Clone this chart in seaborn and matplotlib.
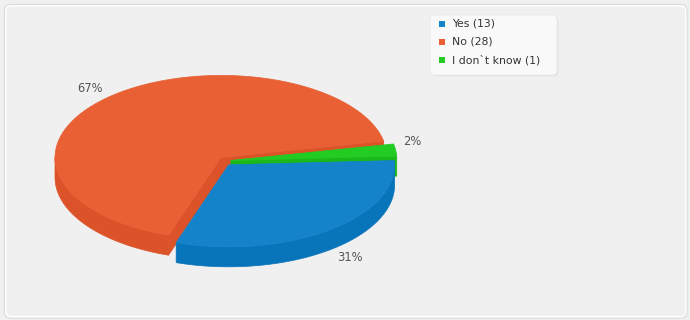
import numpy as np
import matplotlib
matplotlib.use("Agg")
import matplotlib.pyplot as plt
import seaborn as sns
from matplotlib.patches import Polygon, FancyBboxPatch, Rectangle

# ---- data ----
categories = ["Yes", "No", "I don`t know"]
counts = [13, 28, 1]
top_colors = ["#1583C9", "#E86034", "#22CC22"]
side_colors = ["#0874BA", "#DC5329", "#1BB81B"]

sns.set_theme(style="white")
plt.rcParams['font.family'] = ['DejaVu Sans']

W, H = 690, 320
fig = plt.figure(figsize=(W / 100, H / 100), dpi=100, facecolor="#F0F0F0")
ax = fig.add_axes([0, 0, 1, 1])
ax.set_xlim(0, W)
ax.set_ylim(H, 0)
ax.axis("off")
ax.set_facecolor("#F0F0F0")

# frame
ax.add_patch(FancyBboxPatch((4.5, 4.5), W - 7.5, H - 6.5,
                            boxstyle="round,pad=0,rounding_size=6",
                            fc="#F0F0F0", ec="#DCDCDC", lw=0.9, zorder=0))
ax.add_patch(FancyBboxPatch((5.8, 5.8), W - 10.1, H - 9.1,
                            boxstyle="round,pad=0,rounding_size=5",
                            fc="none", ec="white", lw=1.0, zorder=0.5))

# ---- 3D pie geometry ----
cx, cy = 225, 161
rx, ry = 166, 82
depth = 20
explode = 6
start = 3.0

total = sum(counts)
fr = np.array(counts) / total
cum = np.concatenate([[0], np.cumsum(fr)])
slices = []
for i in range(len(counts)):
    a_start = start - cum[i] * 360
    a_end = start - cum[i + 1] * 360
    t1, t2 = a_end, a_start
    m = (t1 + t2) / 2
    mr = np.radians(m)
    ox = explode * np.cos(mr)
    oy = -explode * 0.8 * np.sin(mr)
    slices.append(dict(i=i, t1=t1, t2=t2, m=m, ox=ox, oy=oy))


def rim(s, th, dz=0.0):
    r = np.radians(th)
    return (cx + s["ox"] + rx * np.cos(r), cy + s["oy"] - ry * np.sin(r) + dz)


def arc(s, a, b, dz=0.0, n=None):
    n = n or max(3, int(abs(b - a) * 1.5))
    ts = np.linspace(a, b, n)
    return [rim(s, t, dz) for t in ts]


order = sorted(slices, key=lambda s: -np.sin(np.radians(s["m"])))
for s in order:
    i = s["i"]
    apex = (cx + s["ox"], cy + s["oy"])
    apex_d = (apex[0], apex[1] + depth)
    # outer wall (front part only)
    for k in range(-2, 3):
        lo = max(s["t1"], -180 + 360 * k)
        hi = min(s["t2"], 0 + 360 * k)
        if hi > lo:
            pts = arc(s, lo, hi) + arc(s, hi, lo, depth)
            ax.add_patch(Polygon(pts, closed=True, fc=side_colors[i],
                                 ec=side_colors[i], lw=0.5, zorder=2))
    # radial walls
    if np.cos(np.radians(s["t1"])) > 0:
        p = rim(s, s["t1"])
        pts = [apex, p, (p[0], p[1] + depth), apex_d]
        ax.add_patch(Polygon(pts, closed=True, fc=side_colors[i],
                             ec=side_colors[i], lw=0.5, zorder=2))
    if np.cos(np.radians(s["t2"])) < 0:
        p = rim(s, s["t2"])
        pts = [apex, p, (p[0], p[1] + depth), apex_d]
        ax.add_patch(Polygon(pts, closed=True, fc=side_colors[i],
                             ec=side_colors[i], lw=0.5, zorder=2))
    # top face
    pts = [apex] + arc(s, s["t1"], s["t2"])
    ax.add_patch(Polygon(pts, closed=True, fc=top_colors[i],
                         ec=top_colors[i], lw=0.5, zorder=2))

# percentage labels (placed just outside the rim at each slice's mid angle)
gap = 8
for s in slices:
    mr = np.radians(s["m"])
    c, sn = np.cos(mr), np.sin(mr)
    x, y = rim(s, s["m"])
    x += gap if c > 0 else -gap
    y += (depth + 7) if sn < 0 else -8
    pct = f"{round(100 * counts[s['i']] / total)}%"
    ax.text(x, y, pct, ha="left" if c > 0 else "right", va="center",
            fontsize=8.3, color="#555555", zorder=3)

# legend
lx, ly, lw_, lh = 430, 15, 127, 60
ax.add_patch(FancyBboxPatch((lx + 1.5, ly + 1.5), lw_, lh,
                            boxstyle="round,pad=0,rounding_size=5",
                            fc="#E4E4E4", ec="none", zorder=4))
ax.add_patch(FancyBboxPatch((lx, ly), lw_, lh,
                            boxstyle="round,pad=0,rounding_size=5",
                            fc="#F9F9F9", ec="#EBEBEB", lw=0.6, zorder=5))
for k, (cat, cnt) in enumerate(zip(categories, counts)):
    yy = ly + 9 + 18 * k
    ax.add_patch(Rectangle((439, yy - 3), 6, 6, fc=top_colors[k], ec="none", zorder=6))
    ax.text(452, yy, f"{cat} ({cnt})", ha="left", va="center",
            fontsize=7.8, color="#333333", zorder=6)

fig.savefig("out.png", dpi=100, facecolor=fig.get_facecolor())
